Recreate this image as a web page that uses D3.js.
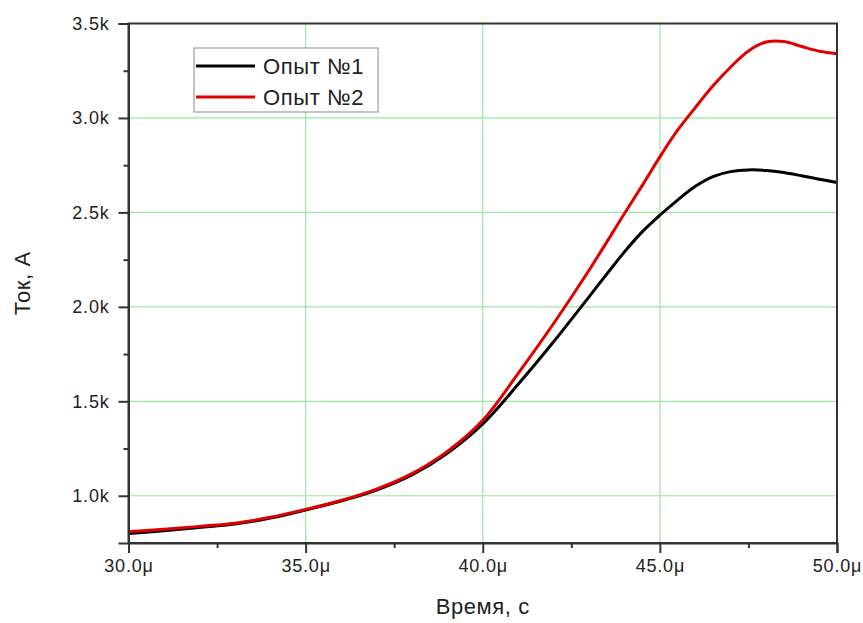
<!DOCTYPE html>
<html>
<head>
<meta charset="utf-8">
<script src="https://cdn.jsdelivr.net/npm/d3@7"></script>
<style>
  body { margin: 0; background: #fff; }
  text { font-family: "Liberation Sans", Arial, sans-serif; fill: #222; }
</style>
</head>
<body>
<svg id="chart" width="863" height="623"></svg>
<script>
// time, µs
const times = [30, 31, 32, 33, 34, 35, 36, 37, 38, 39, 40, 41, 42, 43, 44, 44.5, 45, 45.5, 46, 46.5, 47, 47.5, 48, 48.5, 49, 49.5, 50];
// current, A
const run1 = [800, 815, 832, 850, 882, 925, 972, 1030, 1110, 1225, 1380, 1590, 1815, 2053, 2291, 2397, 2485, 2565, 2638, 2690, 2716, 2725, 2722, 2711, 2694, 2676, 2658];
const run2 = [810, 823, 838, 855, 886, 928, 975, 1035, 1117, 1235, 1400, 1648, 1912, 2194, 2494, 2642, 2794, 2935, 3055, 3170, 3270, 3355, 3402, 3405, 3378, 3353, 3340];
const seriesNames = ['Опыт №1', 'Опыт №2'];
const xTicks = [30, 35, 40, 45, 50];
const yTicks = [1000, 1500, 2000, 2500, 3000, 3500];

const svg = d3.select('#chart');
const margin = { top: 23.5, right: 26, bottom: 80, left: 128.5 };
const width = 863, height = 623;

const x = d3.scaleLinear().domain([30, 50]).range([margin.left, width - margin.right]);
const y = d3.scaleLinear().domain([750, 3500]).range([height - margin.bottom, margin.top]);

// grid
svg.append('g')
  .selectAll('line')
  .data(xTicks.slice(1, -1))
  .enter()
  .append('line')
  .attr('x1', d => x(d)).attr('x2', d => x(d))
  .attr('y1', y.range()[1]).attr('y2', y.range()[0])
  .attr('stroke', '#9be89b').attr('stroke-width', 1.2);
svg.append('g')
  .selectAll('line')
  .data(yTicks.slice(0, -1))
  .enter()
  .append('line')
  .attr('x1', margin.left).attr('x2', width - margin.right)
  .attr('y1', d => y(d)).attr('y2', d => y(d))
  .attr('stroke', '#9be89b').attr('stroke-width', 1.2);

// curves
const line = d3.line().x((d, i) => x(times[i])).y(d => y(d)).curve(d3.curveCatmullRom.alpha(0.5));
svg.append('path').datum(run1)
  .attr('d', line).attr('fill', 'none').attr('stroke', '#000').attr('stroke-width', 3);
svg.append('path').datum(run2)
  .attr('d', line).attr('fill', 'none').attr('stroke', '#e00000').attr('stroke-width', 3);

// frame
svg.append('rect')
  .attr('x', margin.left).attr('y', margin.top)
  .attr('width', x.range()[1] - margin.left)
  .attr('height', y.range()[0] - margin.top)
  .attr('fill', 'none').attr('stroke', '#333').attr('stroke-width', 2);

// axes
svg.append('g')
  .attr('transform', `translate(0,${y.range()[0]})`)
  .call(d3.axisBottom(x).tickValues(xTicks).tickSize(10).tickPadding(6)
    .tickFormat(d => d.toFixed(1) + 'μ'));
svg.append('g')
  .attr('transform', `translate(0,${y.range()[0]})`)
  .call(d3.axisBottom(x).tickValues([32.5, 37.5, 42.5, 47.5]).tickSize(5).tickFormat(''))
  .call(g => g.select('.domain').remove());
svg.append('g')
  .attr('transform', `translate(${margin.left},0)`)
  .call(d3.axisLeft(y).tickValues(yTicks).tickSize(10).tickPadding(9)
    .tickFormat(d => (d / 1000).toFixed(1) + 'k'));
svg.append('g')
  .attr('transform', `translate(${margin.left},0)`)
  .call(d3.axisLeft(y).tickValues([1250, 1750, 2250, 2750, 3250]).tickSize(5).tickFormat(''))
  .call(g => g.select('.domain').remove());

svg.selectAll('.tick line').attr('stroke', '#333').attr('stroke-width', 2);
svg.selectAll('.domain').attr('stroke', '#333').attr('stroke-width', 2);
svg.selectAll('.tick text').attr('font-size', 18).attr('fill', '#222')
  .attr('letter-spacing', 0.8)
  .attr('font-family', '"Liberation Sans", Arial, sans-serif');

// axis titles
svg.append('text')
  .attr('x', (x.range()[0] + x.range()[1]) / 2).attr('y', 614)
  .attr('text-anchor', 'middle').attr('font-size', 22).attr('letter-spacing', 0.6)
  .text('Время, с');
svg.append('text')
  .attr('transform', `translate(30,${(y.range()[0] + y.range()[1]) / 2}) rotate(-90)`)
  .attr('text-anchor', 'middle').attr('font-size', 22).attr('letter-spacing', 0.6)
  .text('Ток, А');

// legend
const legend = svg.append('g').attr('transform', 'translate(194,48)');
legend.append('rect')
  .attr('width', 184).attr('height', 64)
  .attr('fill', '#fff').attr('stroke', '#888').attr('stroke-width', 1);
const colors = ['#000', '#e00000'];
seriesNames.forEach((name, i) => {
  legend.append('line')
    .attr('x1', 2).attr('x2', 61)
    .attr('y1', 18 + i * 31).attr('y2', 18 + i * 31)
    .attr('stroke', colors[i]).attr('stroke-width', 3);
  legend.append('text')
    .attr('x', 69).attr('y', 26 + i * 31)
    .attr('font-size', 22).attr('letter-spacing', 0.6)
    .text(name);
});
</script>
</body>
</html>
